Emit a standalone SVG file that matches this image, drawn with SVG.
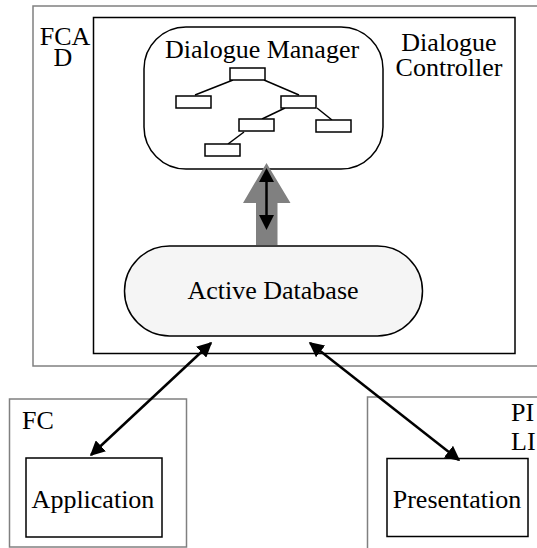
<svg xmlns="http://www.w3.org/2000/svg" width="537" height="548" viewBox="0 0 537 548">
<style>
.gray{fill:none;stroke:#808080;stroke-width:1.5}
.blk{fill:none;stroke:#000;stroke-width:1.5}
.tb{fill:#fff;stroke:#000;stroke-width:1.5}
.tl{stroke:#000;stroke-width:1.5}
.conn{stroke:#000;stroke-width:2.5;fill:none}
.t{font-family:"Liberation Serif","Times New Roman",serif;font-size:26px;fill:#000}
</style>
<defs>
<marker id="ah" viewBox="0 0 10 10" refX="9" refY="5" markerWidth="6" markerHeight="6" markerUnits="strokeWidth" orient="auto-start-reverse">
<path d="M0,0 L10,5 L0,10 z" fill="#000"/>
</marker>
</defs>
<g id="fcad">
<rect x="33" y="6" width="510" height="360" class="gray"/>
<text class="t" x="65" y="45" text-anchor="middle">FCA</text>
<text class="t" x="63" y="66" text-anchor="middle">D</text>
</g>
<g id="dialogue-controller">
<rect x="93.5" y="17.5" width="421.5" height="336" class="blk"/>
<text class="t" x="449" y="51" text-anchor="middle">Dialogue</text>
<text class="t" x="449" y="76" text-anchor="middle">Controller</text>
</g>
<g id="dialogue-manager">
<rect x="144" y="27" width="239" height="142" rx="42" ry="42" class="blk" fill="#fff"/>
<text class="t" x="262" y="58" text-anchor="middle">Dialogue Manager</text>
<line x1="233" y1="80" x2="195" y2="95" class="tl"/>
<line x1="264" y1="80" x2="299" y2="95" class="tl"/>
<line x1="285" y1="108" x2="262" y2="119" class="tl"/>
<line x1="317" y1="108" x2="332" y2="120" class="tl"/>
<line x1="244" y1="132" x2="228" y2="144" class="tl"/>
<rect x="230" y="68" width="35" height="12" class="tb"/>
<rect x="176" y="96" width="35" height="12" class="tb"/>
<rect x="281" y="96" width="35" height="12" class="tb"/>
<rect x="239" y="119" width="35" height="12" class="tb"/>
<rect x="316" y="120" width="35" height="12" class="tb"/>
<rect x="205" y="144" width="35" height="12" class="tb"/>
</g>
<g id="active-database">
<rect x="124.5" y="246" width="298" height="90" rx="45" ry="45" fill="#f5f5f5" stroke="#000" stroke-width="1.5"/>
<text class="t" x="273" y="299" text-anchor="middle">Active Database</text>
</g>
<g id="fc">
<rect x="9.5" y="399" width="177" height="148" class="gray"/>
<text class="t" x="22" y="429">FC</text>
</g>
<g id="application">
<rect x="26" y="458" width="136" height="79" class="blk"/>
<text class="t" x="93" y="508" text-anchor="middle">Application</text>
</g>
<g id="pili">
<rect x="367.5" y="397" width="180" height="160" class="gray"/>
<text class="t" x="511" y="421">PI</text>
<text class="t" x="511" y="450">LI</text>
</g>
<g id="presentation">
<rect x="387" y="458.5" width="141" height="78" class="blk"/>
<text class="t" x="457" y="508" text-anchor="middle">Presentation</text>
</g>
<g id="connectors">
<path d="M256,245 L256,203 L243,203 L266.5,163 L290.5,203 L277.5,203 L277.5,245 z" fill="#808080"/>
<line x1="266.5" y1="181" x2="266.5" y2="215" stroke="#000" stroke-width="2.5"/>
<path d="M266.5,168 L259,182 L274,182 z" fill="#000"/>
<path d="M266.5,230 L259,215 L274,215 z" fill="#000"/>
<line x1="211" y1="343" x2="91" y2="455" class="conn" marker-start="url(#ah)" marker-end="url(#ah)"/>
<line x1="310" y1="343" x2="459" y2="460" class="conn" marker-start="url(#ah)" marker-end="url(#ah)"/>
</g>
</svg>
